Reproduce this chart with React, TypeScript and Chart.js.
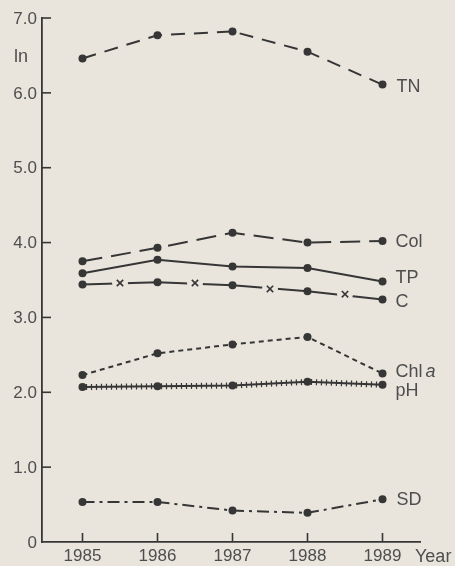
import React, { useEffect, useRef } from "react";
import { Chart, registerables } from "chart.js";
Chart.register(...registerables);

const years = [1985, 1986, 1987, 1988, 1989];
const tnValues = [6.46, 6.77, 6.82, 6.55, 6.11];
const colValues = [3.75, 3.93, 4.13, 4.0, 4.02];
const tpValues = [3.59, 3.77, 3.68, 3.66, 3.48];
const cValues = [3.44, 3.47, 3.43, 3.35, 3.24];
const cMidYears = [1985.5, 1986.5, 1987.5, 1988.5];
const cMidValues = [3.46, 3.46, 3.38, 3.31];
const chlValues = [2.23, 2.52, 2.64, 2.74, 2.25];
const phValues = [2.07, 2.08, 2.09, 2.14, 2.1];
const sdValues = [0.535, 0.535, 0.42, 0.39, 0.57];
const yTickValues = [0, 1, 2, 3, 4, 5, 6, 7];
const yTickLabels = ["0", "1.0", "2.0", "3.0", "4.0", "5.0", "6.0", "7.0"];
const yAxisTitle = "ln";
const xAxisTitle = "Year";

const BG = "#e9e5dd";
const INK = "#363636";
const TEXT = "#4e4e4e";
const FONT = "'Liberation Sans', Arial, sans-serif";

const pts = (xs: number[], ys: number[]) => xs.map((x, i) => ({ x, y: ys[i] }));

// label styling per series (offsets are presentation only)
const seriesLabelStyle: { name: string; dx: number; dy: number }[] = [
  { name: "TN", dx: 14, dy: 2 },
  { name: "Col", dx: 13, dy: 1 },
  { name: "TP", dx: 13, dy: -3 },
  { name: "C", dx: 13, dy: 3 },
  { name: "Chl a", dx: 13, dy: -2 },
  { name: "pH", dx: 13, dy: 6 },
  { name: "SD", dx: 14, dy: 1 },
];

export default function App() {
  const ref = useRef<HTMLCanvasElement | null>(null);
  useEffect(() => {
    if (!ref.current) return;
    const lineDs = (data: any[], dash: number[], order = 3) => ({
      data,
      borderColor: INK,
      backgroundColor: INK,
      borderWidth: 2,
      borderDash: dash,
      pointRadius: 4,
      pointBackgroundColor: INK,
      pointBorderWidth: 0,
      tension: 0,
      order,
    });
    const datasets: any[] = [
      lineDs(pts(years, tnValues), [14, 9]),
      lineDs(pts(years, colValues), [20, 9]),
      lineDs(pts(years, tpValues), []),
      lineDs(pts(years, cValues), [], 2),
      lineDs(pts(years, chlValues), [5, 4]),
      lineDs(pts(years, phValues), []),
      lineDs(pts(years, sdValues), [12, 5, 3, 5]),
      {
        data: pts(cMidYears, cMidValues),
        showLine: false,
        pointRadius: 8,
        pointBackgroundColor: BG,
        pointBorderWidth: 0,
        order: 1,
      },
      {
        data: pts(cMidYears, cMidValues),
        showLine: false,
        pointStyle: "crossRot",
        pointRadius: 4.5,
        pointBorderColor: INK,
        pointBorderWidth: 1.6,
        order: 0,
      },
    ];

    const deco = {
      id: "deco",
      beforeDraw(chart: any) {
        const c = chart.ctx;
        c.save();
        c.fillStyle = BG;
        c.fillRect(0, 0, chart.width, chart.height);
        c.restore();
      },
      afterDatasetsDraw(chart: any) {
        const c = chart.ctx;
        const meta = chart.getDatasetMeta(5);
        c.save();
        c.strokeStyle = INK;
        c.lineWidth = 1.2;
        for (let i = 0; i < meta.data.length - 1; i++) {
          const a = meta.data[i], b = meta.data[i + 1];
          const dx = b.x - a.x, dy = b.y - a.y;
          const len = Math.hypot(dx, dy);
          const ux = dx / len, uy = dy / len;
          for (let s = 4; s < len - 2; s += 5) {
            const px = a.x + ux * s, py = a.y + uy * s;
            c.beginPath();
            c.moveTo(px - uy * 3, py + ux * 3);
            c.lineTo(px + uy * 3, py - ux * 3);
            c.stroke();
          }
        }
        c.restore();
      },
      afterDraw(chart: any) {
        const c = chart.ctx;
        const xs = chart.scales.x, ys = chart.scales.y;
        const area = chart.chartArea;
        c.save();
        c.strokeStyle = INK;
        c.lineWidth = 1.6;
        yTickValues.forEach((v) => {
          const y = ys.getPixelForValue(v);
          if (v !== 0) {
            c.beginPath();
            c.moveTo(area.left, y);
            c.lineTo(area.left + 9, y);
            c.stroke();
          }
        });
        years.forEach((yr) => {
          const x = xs.getPixelForValue(yr);
          c.beginPath();
          c.moveTo(x, area.bottom);
          c.lineTo(x, area.bottom - 9);
          c.stroke();
        });
        c.fillStyle = TEXT;
        c.font = `17px ${FONT}`;
        c.textAlign = "right";
        c.textBaseline = "middle";
        yTickValues.forEach((v, i) => {
          c.fillText(yTickLabels[i], area.left - 5, ys.getPixelForValue(v) + 1);
        });
        c.textAlign = "left";
        c.font = `18px ${FONT}`;
        c.fillText(yAxisTitle, 14, 57);
        c.font = `17px ${FONT}`;
        c.textAlign = "center";
        c.textBaseline = "top";
        years.forEach((yr) => {
          c.fillText(String(yr), xs.getPixelForValue(yr), area.bottom + 6);
        });
        c.textAlign = "left";
        c.font = `18px ${FONT}`;
        c.fillText(xAxisTitle, area.right - 5, area.bottom + 6);
        c.textBaseline = "middle";
        seriesLabelStyle.forEach((s, i) => {
          const m = chart.getDatasetMeta(i);
          const p = m.data[m.data.length - 1];
          const x = p.x + s.dx, y = p.y + s.dy;
          if (s.name === "Chl a") {
            c.font = `18px ${FONT}`;
            c.fillText("Chl", x, y);
            const w = c.measureText("Chl").width;
            c.font = `italic 18px ${FONT}`;
            c.fillText("a", x + w + 3, y);
          } else {
            c.font = `18px ${FONT}`;
            c.fillText(s.name, x, y);
          }
        });
        c.restore();
      },
    };

    const chart = new Chart(ref.current, {
      type: "line",
      data: { datasets },
      options: {
        animation: false,
        responsive: false,
        maintainAspectRatio: false,
        layout: { padding: { top: 18, right: 35, left: 0, bottom: 0 } },
        plugins: { legend: { display: false }, tooltip: { enabled: false } },
        scales: {
          x: {
            type: "linear",
            min: 1984.46,
            max: 1989.5,
            grid: { display: false },
            ticks: { display: false },
            border: { display: true, color: INK, width: 1.8 },
            afterFit: (s: any) => { s.height = 24; },
          },
          y: {
            type: "linear",
            min: 0,
            max: 7,
            grid: { display: false },
            ticks: { display: false },
            border: { display: true, color: INK, width: 1.8 },
            afterFit: (s: any) => { s.width = 42; },
          },
        },
      },
      plugins: [deco],
    } as any);
    return () => chart.destroy();
  }, []);
  return (
    <div style={{ position: "absolute", left: 0, top: 0, width: 455, height: 566, background: BG }}>
      <canvas ref={ref} width={455} height={566} style={{ display: "block" }} />
    </div>
  );
}
